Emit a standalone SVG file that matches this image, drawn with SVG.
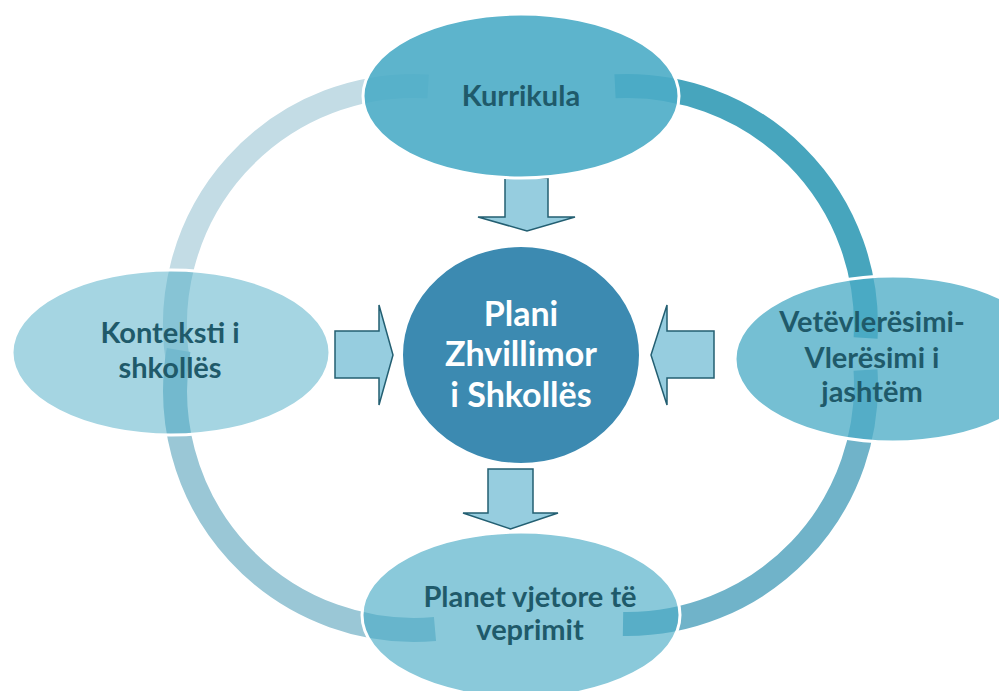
<svg xmlns="http://www.w3.org/2000/svg" width="999" height="691" viewBox="0 0 999 691">
<style>
.ring{fill:none;stroke-width:24;stroke-linecap:butt}
.node{fill:#4BACC6;stroke:#FFFFFF;stroke-width:3}
.blk{fill:#96CDDF;stroke:#235F72;stroke-width:1.5;stroke-linejoin:miter}
.lbl{font-family:Lato,"Open Sans","Liberation Sans",sans-serif;font-weight:bold;font-size:29px;fill:#1F5A6A;text-anchor:middle}
.ctr{font-family:Lato,"Open Sans","Liberation Sans",sans-serif;font-weight:bold;font-size:34px;fill:#FFFFFF;text-anchor:middle}
</style>
<rect width="999" height="691" fill="#FFFFFF"/>
<g id="connectors">
  <path class="ring" stroke="#C3DCE5" d="M178.3,364.9 A239,239 0 0 1 428.2,86.4"/>
  <path class="ring" stroke="#47A5BD" d="M615,86.3 A239,239 0 0 1 865.6,338"/>
  <path class="ring" stroke="#70B3C9" d="M865.5,370 A239,239 0 0 1 623,624"/>
  <path class="ring" stroke="#9AC7D6" d="M178.6,350 A239,239 0 0 0 435,629"/>
  <path class="blk" d="M505,178 H548 V217 H575 L527,231 L478,217 H505 Z"/>
  <path class="blk" d="M488,469 H533 V513 H558 L510.5,529 L463,513 H488 Z"/>
  <path class="blk" d="M335,331 H379 V305 L393,355 L379,405 V378 H335 Z"/>
  <path class="blk" d="M714,331 H667 V305 L651,355 L667,405 V378 H714 Z"/>
</g>
<g id="kurrikula">
  <ellipse class="node" cx="521" cy="96" rx="158" ry="82" fill-opacity="0.9"/>
  <text class="lbl" x="521" y="106">Kurrikula</text>
</g>
<g id="konteksti">
  <ellipse class="node" cx="171" cy="352.5" rx="159" ry="82.5" fill-opacity="0.5"/>
  <text class="lbl" x="170" y="343">Konteksti i</text>
  <text class="lbl" x="170" y="378">shkollës</text>
</g>
<g id="vetevleresimi">
  <ellipse class="node" cx="893" cy="359" rx="158" ry="83" fill-opacity="0.77"/>
  <text class="lbl" x="872" y="332">Vetëvlerësimi-</text>
  <text class="lbl" x="872" y="368">Vlerësimi i</text>
  <text class="lbl" x="872" y="402">jashtëm</text>
</g>
<g id="planet">
  <ellipse class="node" cx="521" cy="615" rx="159" ry="83" fill-opacity="0.65"/>
  <text class="lbl" x="530" y="607">Planet vjetore të</text>
  <text class="lbl" x="530" y="640">veprimit</text>
</g>
<g id="plani">
  <ellipse cx="521" cy="355" rx="119" ry="109" fill="#3C8AB1" stroke="#FFFFFF" stroke-width="2"/>
  <text class="ctr" x="521" y="326">Plani</text>
  <text class="ctr" x="521" y="366">Zhvillimor</text>
  <text class="ctr" x="521" y="407">i Shkollës</text>
</g>
</svg>
